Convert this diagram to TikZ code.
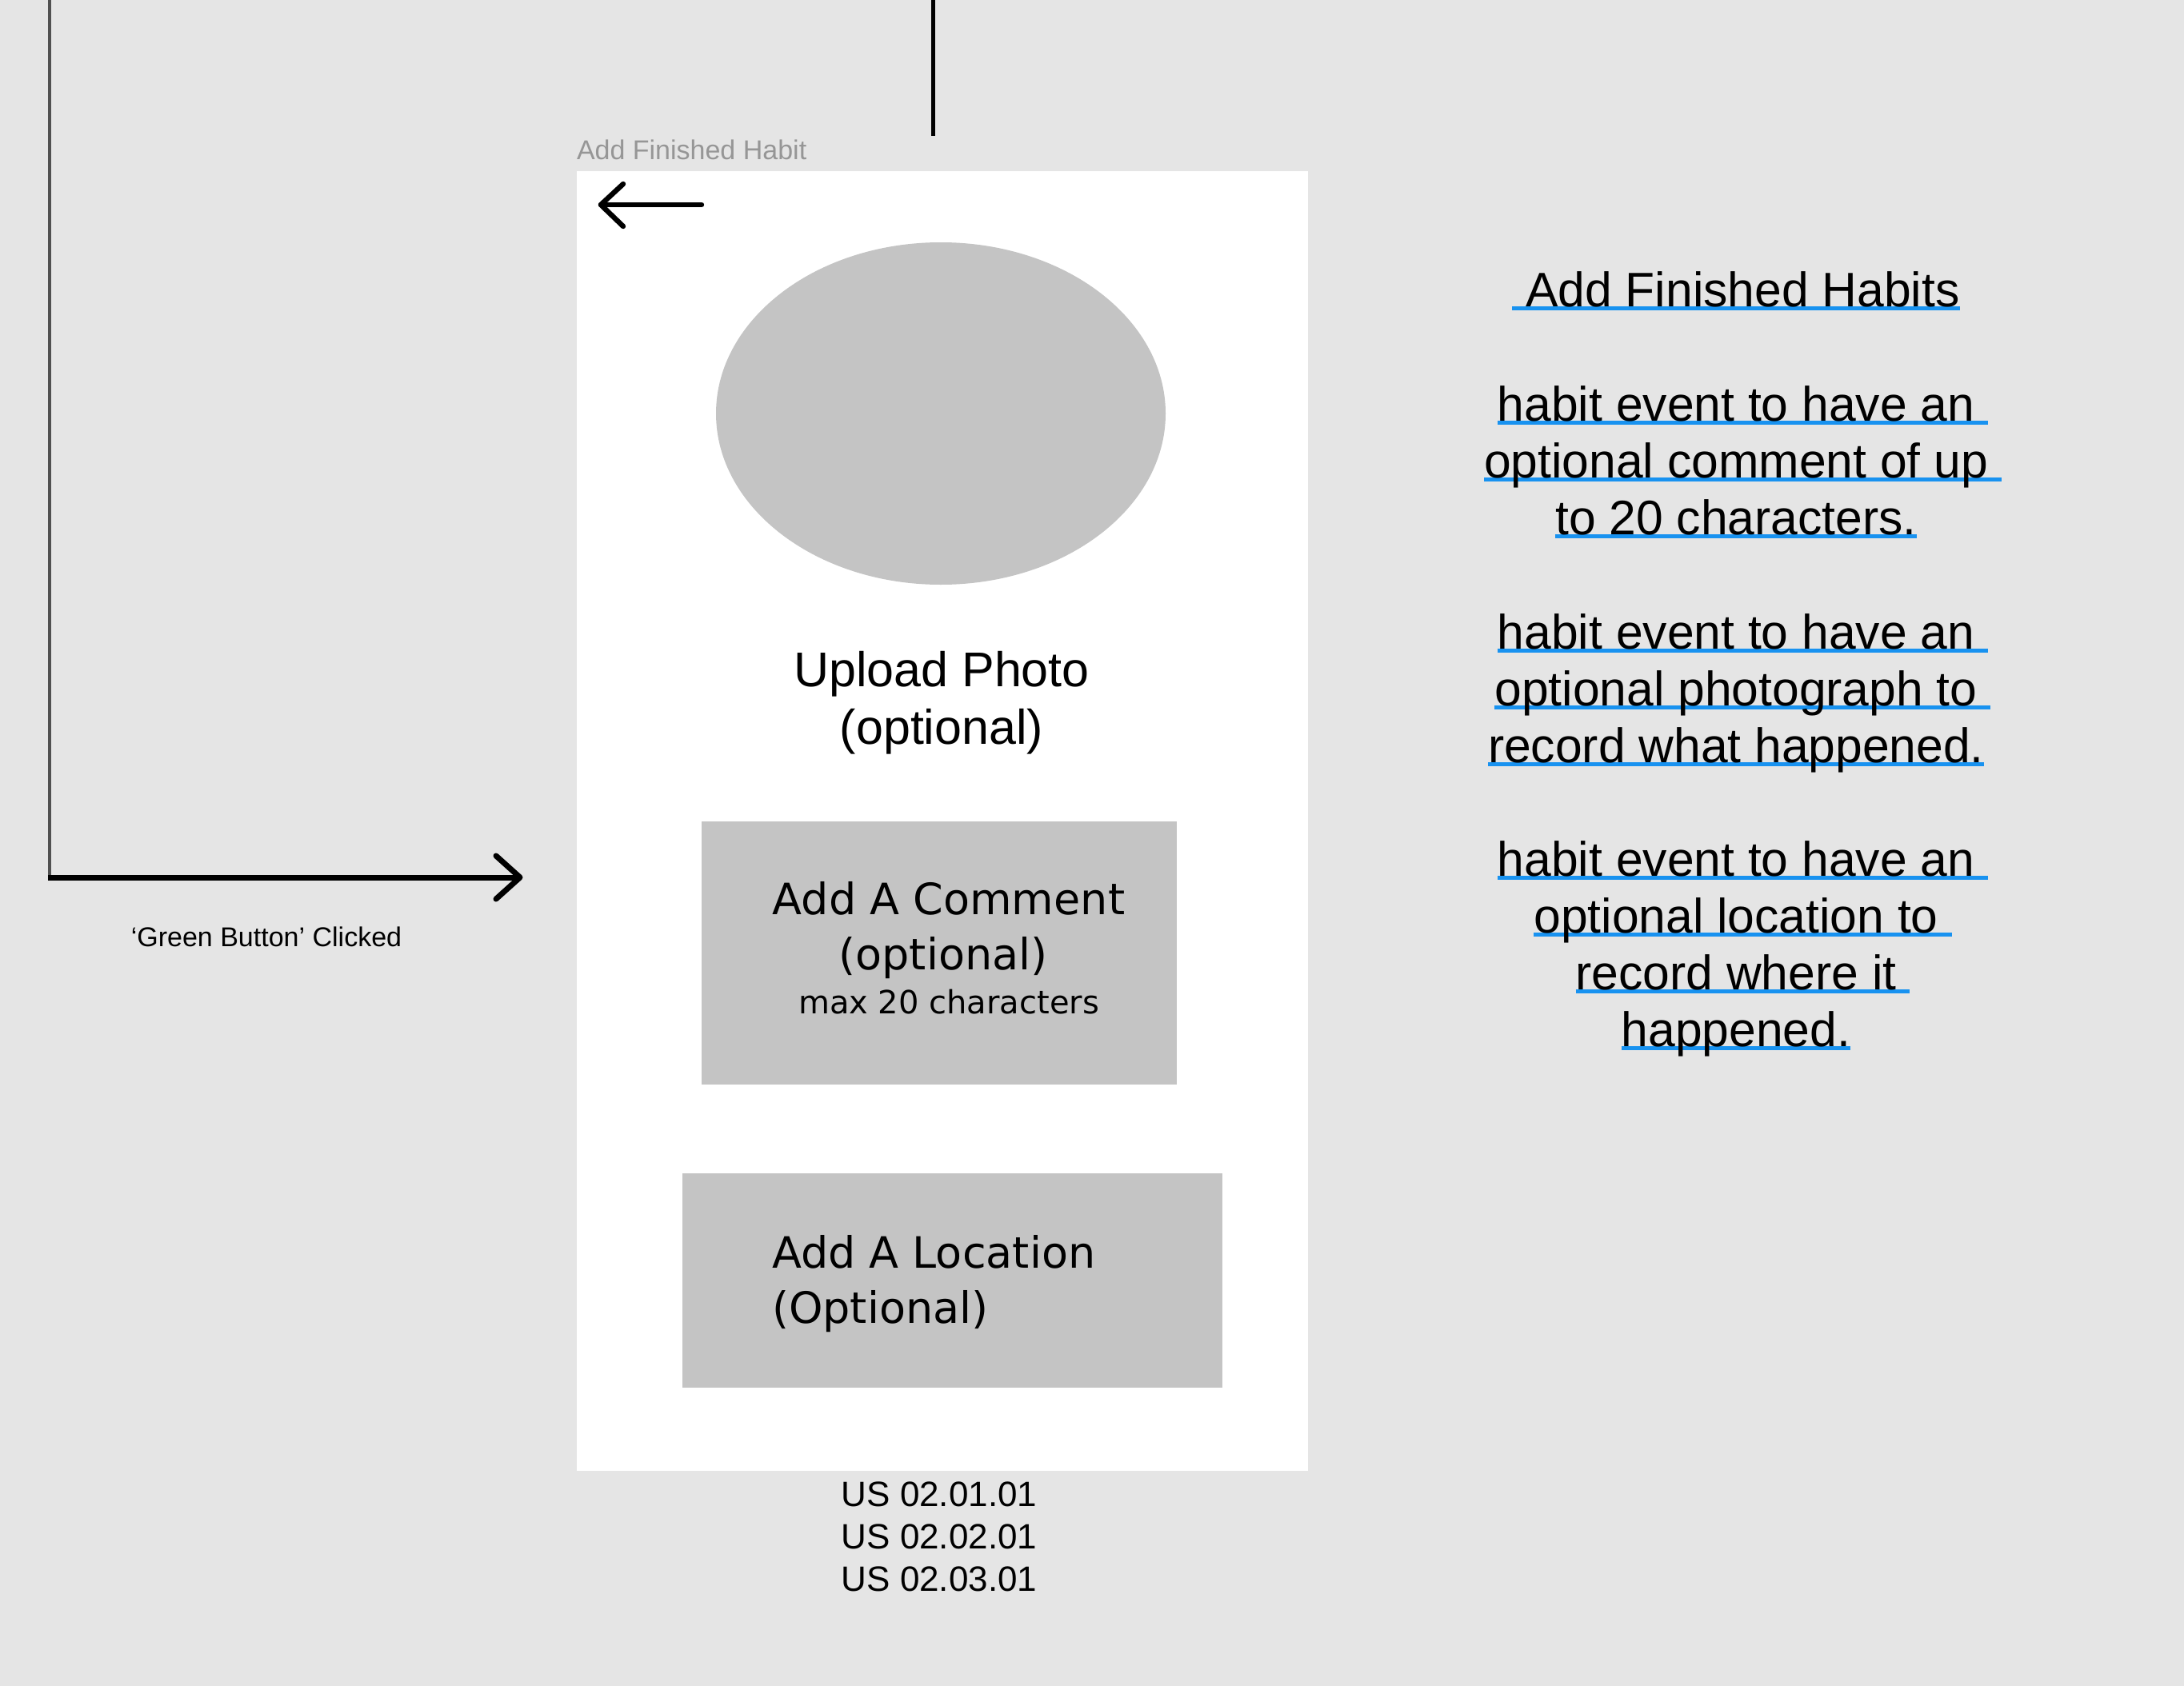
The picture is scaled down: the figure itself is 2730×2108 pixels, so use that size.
\documentclass[tikz,border=0pt]{standalone}
\usepackage{fontspec}
\setmainfont{Liberation Sans}
\newfontfamily\dvfont{DejaVu Sans}
\definecolor{bgcol}{HTML}{E5E5E5}
\definecolor{boxcol}{HTML}{C4C4C4}
\definecolor{ulblue}{RGB}{24,146,240}
\definecolor{labgrey}{RGB}{150,150,150}
\definecolor{linegrey}{RGB}{80,80,80}
\newcommand\blueul[2]{\setbox0\hbox{#1}\setbox2\hbox{#1#2}\rlap{\color{ulblue}\rule[-2.5pt]{\wd2}{2.5pt}}\box0}
\begin{document}
\begin{tikzpicture}[x=0.5pt,y=-0.5pt,
  txt/.style={anchor=base, inner sep=0pt, outer sep=0pt},
  rtext/.style={txt, font=\fontsize{30.3}{36}\selectfont},
  phototext/.style={txt, font=\fontsize{30.5}{36}\selectfont},
  boxtext/.style={txt, font=\dvfont\fontsize{27}{32}\selectfont},
  smalltext/.style={txt, font=\dvfont\fontsize{20}{24}\selectfont},
  ustext/.style={txt, font=\fontsize{22}{26}\selectfont},
  captext/.style={txt, font=\fontsize{17}{20}\selectfont},
  greybox/.style={fill=boxcol, draw=none}
]
\useasboundingbox (0,0) rectangle (2730,2108);
\fill[bgcol] (0,0) rectangle (2730,2108);

% screen
\fill[white] (721,214) rectangle (1635,1839);
\coordinate (screen) at (1178,1026);
\node[captext, anchor=base west, text=labgrey] (lab) at (721,200) {Add Finished Habit};

% back arrow icon
\draw[line width=3.2pt, line cap=round, line join=round] (779,230) -- (751,256) -- (779,283);
\draw[line width=3.2pt, line cap=round] (751,256) -- (877,256);

% photo placeholder
\fill[boxcol] (1176,517) ellipse [x radius=281, y radius=214];
\node[phototext] (up1) at (1177,858) {Upload Photo};
\node[phototext] (up2) at (1177,930) {(optional)};

% comment box
\node[greybox, minimum width=297pt, minimum height=164.5pt, inner sep=0pt, anchor=north west] (cbox) at (877,1027) {};
\node[boxtext] (c1) at (1186,1143) {Add A Comment};
\node[boxtext] (c2) at (1179,1212) {(optional)};
\node[smalltext] (c3) at (1186,1267) {max 20 characters};

% location box
\node[greybox, minimum width=337.5pt, minimum height=134pt, inner sep=0pt, anchor=north west] (lbox) at (853,1467) {};
\node[boxtext, anchor=base west] (l1) at (965,1585) {Add A Location};
\node[boxtext, anchor=base west] (l2) at (965,1654) {(Optional)};

% user story ids
\node[ustext] (us1) at (1174,1883) {US 02.01.01};
\node[ustext] (us2) at (1174,1936) {US 02.02.01};
\node[ustext] (us3) at (1174,1989) {US 02.03.01};

% connectors
\coordinate (ltop) at (62,0);
\coordinate (lcorner) at (62,1097);
\coordinate (gend) at (650,1097);
\coordinate (ttop) at (1166,0);
\coordinate (tbot) at (1166,170);
\draw[line width=1.8pt, linegrey] (ltop) -- (lcorner);
\draw[line width=3.5pt] ([xshift=-0.9pt]lcorner) -- (gend);
\draw[line width=3.5pt, line cap=round, line join=round] (gend) ++(-30,-27) -- (gend) -- ++(-30,27);
\node[captext] (green) at (333,1183) {`Green Button' Clicked};
\draw[line width=2.5pt] (ttop) -- (tbot);

% right side notes
\node[rtext] (h0) at (2170,383) {\blueul{\ Add Finished Habits}{}};
\node[rtext] (a1) at (2170,526) {\blueul{habit event to have an}{\ }};
\node[rtext] (a2) at (2170,597) {\blueul{optional comment of up}{\ }};
\node[rtext] (a3) at (2170,668) {\blueul{to 20 characters.}{}};
\node[rtext] (b1) at (2170,811) {\blueul{habit event to have an}{\ }};
\node[rtext] (b2) at (2170,882) {\blueul{optional photograph to}{\ }};
\node[rtext] (b3) at (2170,953) {\blueul{record what happened.}{}};
\node[rtext] (d1) at (2170,1095) {\blueul{habit event to have an}{\ }};
\node[rtext] (d2) at (2170,1166) {\blueul{optional location to}{\ }};
\node[rtext] (d3) at (2170,1237) {\blueul{record where it}{\ }};
\node[rtext] (d4) at (2170,1308) {\blueul{happened.}{}};
\end{tikzpicture}
\end{document}
